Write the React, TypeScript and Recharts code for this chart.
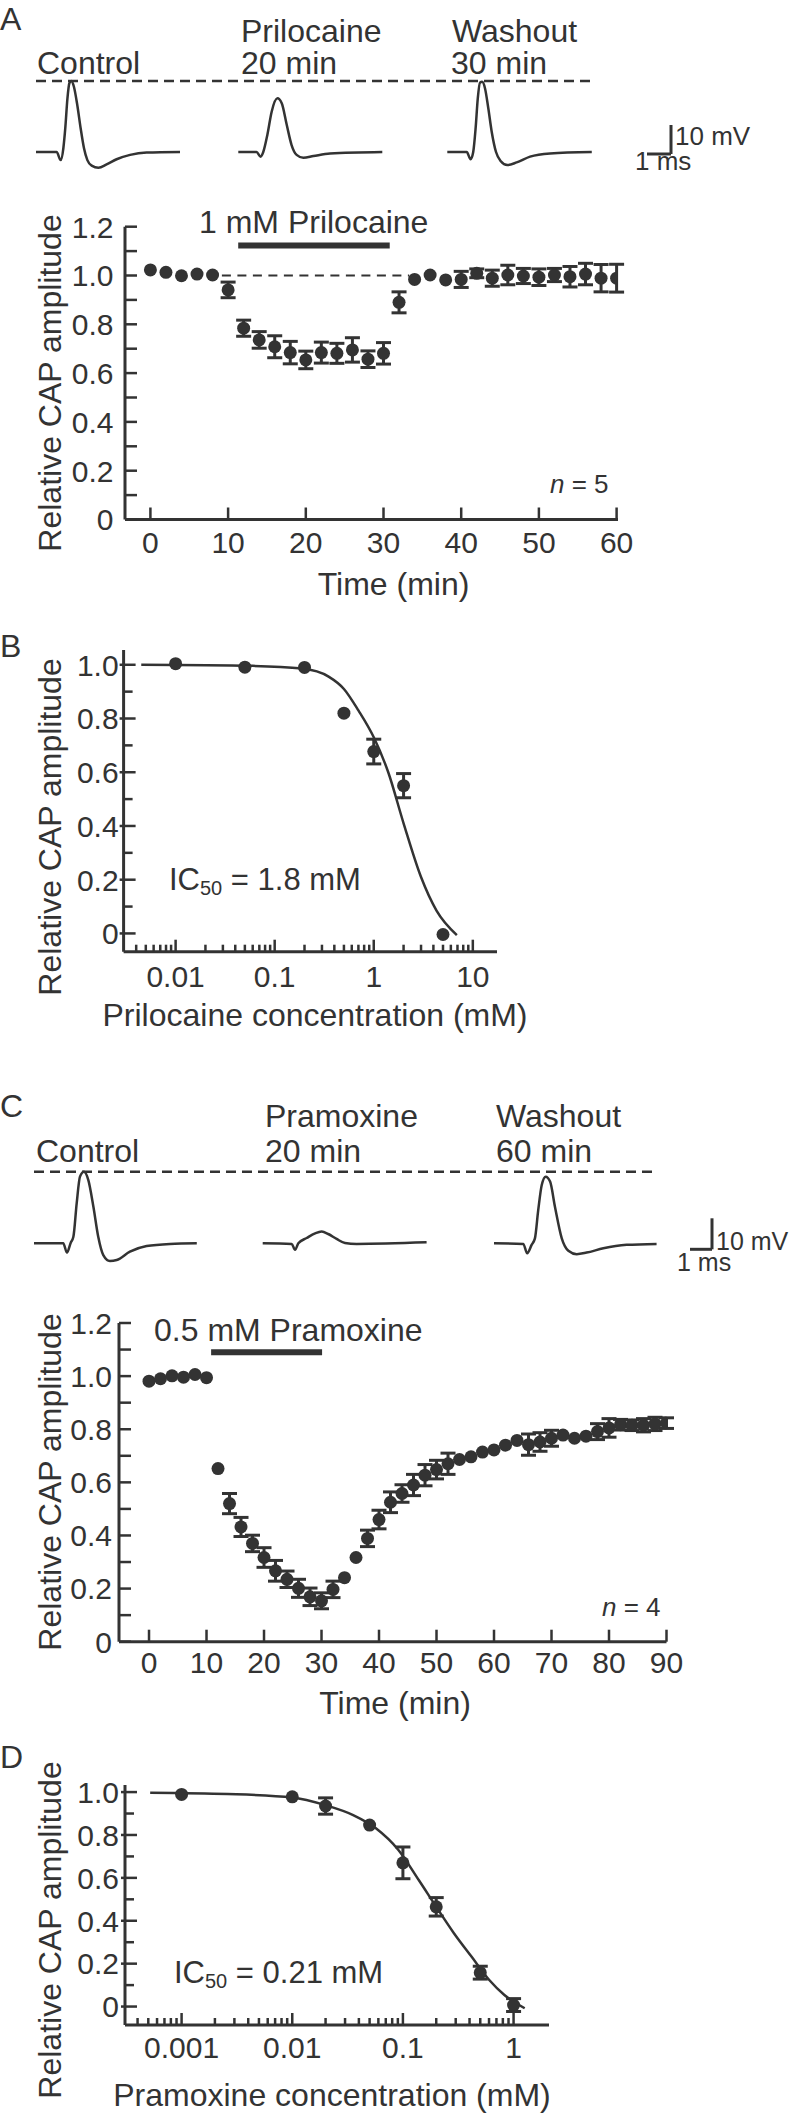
import React from 'react';
import {
  ComposedChart,
  LineChart,
  Line,
  Scatter,
  ErrorBar,
  XAxis,
  YAxis,
  ReferenceLine,
} from 'recharts';

const INK = '#333';
const FONT = '"Liberation Sans", Arial, Helvetica, sans-serif';
const W = 791;
const Y_AXIS_W = 60;
const X_AXIS_H = 40;

// ---- A: sample CAP traces (ms from trace start, mV from baseline)
const aCtrlT = [0, 0.86, 1.03, 1.14, 1.22, 1.31, 1.39, 1.47, 1.58, 1.72, 1.86, 2.0, 2.14, 2.32, 2.6, 2.94, 3.36, 3.92, 4.61, 6.0];
const aCtrlV = [0, 0, -2.8, 1.3, 8.2, 18.5, 23.7, 24.5, 22.5, 16.2, 8.2, 1.3, -2.8, -4.7, -5.4, -4.3, -2.5, -1.0, -0.2, 0];
const aPrilT = [0, 0.76, 0.93, 1.04, 1.21, 1.39, 1.63, 1.81, 2.02, 2.22, 2.43, 2.71, 3.13, 3.82, 6.0];
const aPrilV = [0, 0, -1.6, 0, 5.9, 13.9, 18.5, 16.8, 9.3, 2.4, -1.0, -2.0, -1.4, -0.5, 0];
const aWashT = [0, 0.81, 0.97, 1.08, 1.18, 1.27, 1.36, 1.45, 1.57, 1.71, 1.85, 2.03, 2.22, 2.5, 2.89, 3.45, 4.28, 6.02];
const aWashV = [0, 0, -2.5, 0, 8.2, 18.5, 23.9, 24.2, 22, 15, 7, 0, -3.1, -4.5, -3.6, -1.6, -0.5, 0];

// ---- A: time course, 1 mM prilocaine (0 = error bar hidden behind the dot)
const prilTime = [0, 2, 4, 6, 8, 10, 12, 14, 16, 18, 20, 22, 24, 26, 28, 30, 32, 34, 36, 38, 40, 42, 44, 46, 48, 50, 52, 54, 56, 58, 60];
const prilAmp = [1.023, 1.013, 0.999, 1.006, 1.002, 0.941, 0.784, 0.736, 0.708, 0.684, 0.654, 0.684, 0.681, 0.695, 0.657, 0.681, 0.89, 0.984, 1.002, 0.982, 0.984, 1.009, 0.989, 1.002, 0.998, 0.993, 1.002, 0.995, 1.006, 0.989, 0.989];
const prilErr = [0, 0, 0, 0, 0, 0.032, 0.033, 0.034, 0.045, 0.046, 0.036, 0.043, 0.041, 0.05, 0.034, 0.044, 0.043, 0, 0, 0, 0.033, 0.018, 0.033, 0.04, 0.031, 0.034, 0.027, 0.042, 0.044, 0.056, 0.057];
const prilDrug = [11.3, 30.8];

// ---- B: prilocaine concentration-response
const prilConc = [0.01, 0.05, 0.2, 0.5, 1, 2, 5];
const prilConcAmp = [1.004, 0.991, 0.99, 0.82, 0.677, 0.55, -0.004];
const prilConcErr = [0, 0, 0, 0, 0.046, 0.045, 0];
const prilFitX = [0.0045, 0.06, 0.19, 0.35, 0.5, 0.7, 1.0, 1.4, 2.0, 3.0, 4.3, 6.9];
const prilFitY = [1.0, 0.996, 0.986, 0.956, 0.91, 0.83, 0.73, 0.6, 0.41, 0.21, 0.085, -0.006];

// ---- C: sample CAP traces
const cCtrlT = [0, 1.33, 1.5, 1.67, 1.79, 1.94, 2.09, 2.27, 2.47, 2.7, 2.92, 3.15, 3.45, 3.76, 4.36, 5.12, 6.18, 7.4];
const cCtrlV = [0, 0, -3.0, 0.2, 2.1, 12.9, 21.5, 23.1, 20.4, 11.8, 2.1, -3.8, -5.7, -5.4, -2.7, -0.9, -0.2, 0];
const cPramT = [0, 1.32, 1.47, 1.62, 2.0, 2.38, 2.68, 2.98, 3.36, 3.74, 4.27, 7.45];
const cPramV = [0, -0.2, -2.1, 0, 1.7, 3.2, 3.8, 3.0, 1.4, 0.1, -0.2, 0.3];
const cWashT = [0, 1.33, 1.51, 1.71, 1.86, 2.01, 2.17, 2.35, 2.55, 2.77, 3.08, 3.38, 3.76, 4.21, 4.97, 6.03, 7.39];
const cWashV = [0, -0.2, -3.2, -0.5, 1.6, 10.7, 18.8, 21.5, 19.9, 11.8, 1.6, -2.4, -3.5, -3.0, -1.6, -0.5, -0.2];

// ---- C: time course, 0.5 mM pramoxine
const pramTime = [0, 2, 4, 6, 8, 10, 12, 14, 16, 18, 20, 22, 24, 26, 28, 30, 32, 34, 36, 38, 40, 42, 44, 46, 48, 50, 52, 54, 56, 58, 60, 62, 64, 66, 68, 70, 72, 74, 76, 78, 80, 82, 84, 86, 88, 90];
const pramAmp = [0.981, 0.99, 1.001, 0.996, 1.006, 0.994, 0.652, 0.52, 0.432, 0.37, 0.317, 0.267, 0.235, 0.201, 0.169, 0.154, 0.197, 0.241, 0.317, 0.389, 0.46, 0.525, 0.558, 0.59, 0.627, 0.648, 0.67, 0.686, 0.696, 0.714, 0.722, 0.74, 0.758, 0.742, 0.752, 0.766, 0.778, 0.766, 0.774, 0.791, 0.805, 0.817, 0.815, 0.815, 0.82, 0.823];
const pramErr = [0, 0, 0, 0, 0, 0, 0, 0.038, 0.036, 0.031, 0.037, 0.039, 0.031, 0.034, 0.033, 0.03, 0.031, 0, 0, 0.031, 0.035, 0.039, 0.033, 0.04, 0.04, 0.035, 0.04, 0, 0, 0, 0, 0, 0, 0.04, 0.035, 0.03, 0, 0, 0, 0.03, 0.035, 0.02, 0.02, 0.025, 0.025, 0.02];
const pramDrug = [10.8, 30.1];

// ---- D: pramoxine concentration-response
const pramConc = [0.001, 0.01, 0.02, 0.05, 0.1, 0.2, 0.5, 1];
const pramConcAmp = [0.989, 0.978, 0.935, 0.846, 0.67, 0.465, 0.158, 0.007];
const pramConcErr = [0, 0, 0.038, 0, 0.074, 0.043, 0.03, 0.03];
const pramFitX = [0.00052, 0.0026, 0.01, 0.02, 0.0355, 0.057, 0.091, 0.139, 0.2, 0.29, 0.418, 0.603, 0.826, 1.26];
const pramFitY = [0.997, 0.991, 0.975, 0.939, 0.893, 0.831, 0.73, 0.59, 0.465, 0.341, 0.232, 0.124, 0.054, -0.008];

// ---- tick values
const relTicks = [0, 0.1, 0.2, 0.3, 0.4, 0.5, 0.6, 0.7, 0.8, 0.9, 1.0, 1.1, 1.2];
const relMajor = [0, 0.2, 0.4, 0.6, 0.8, 1.0, 1.2];
const timeTicksA = [0, 10, 20, 30, 40, 50, 60];
const timeTicksC = [0, 10, 20, 30, 40, 50, 60, 70, 80, 90];
const decadesB = [0.01, 0.1, 1, 10];
const decadesD = [0.001, 0.01, 0.1, 1];
const minorSteps = [2, 3, 4, 5, 6, 7, 8, 9];

const fmtRel = (v: number) => (v === 0 ? '0' : v.toFixed(1));
const zip = (xs: number[], ys: number[], es?: number[]) =>
  xs.map((x, i) => ({ x, y: ys[i], e: es && es[i] ? es[i] : null }));

type Trace = { t: number[]; v: number[]; startX: number };

function TraceRow({ top, height, baseY, pxMs, pxMv, traces, barX, barY }: {
  top: number; height: number; baseY: number; pxMs: number; pxMv: number;
  traces: Trace[]; barX: number; barY: number;
}) {
  const originX = traces[0].startX;
  const toT = (x: number) => (x - originX) / pxMs;
  const toV = (y: number) => (baseY - y) / pxMv;
  const peak = Math.max(...traces[0].v);
  const last = traces[traces.length - 1];
  const dashEnd = toT(last.startX) + last.t[last.t.length - 1];
  const bx = toT(barX);
  const by = toV(barY);
  return (
    <div style={{ position: 'absolute', left: 0, top }}>
      <LineChart width={W} height={height} margin={{ top: 0, right: 0, bottom: 0, left: 0 }}>
        <XAxis type="number" dataKey="t" domain={[toT(0), toT(W)]} allowDataOverflow hide />
        <YAxis type="number" domain={[toV(top + height), toV(top)]} allowDataOverflow hide />
        <ReferenceLine segment={[{ x: 0, y: peak }, { x: dashEnd, y: peak }]} stroke={INK} strokeWidth={2.5} strokeDasharray="10 6" />
        {traces.map((tr, k) => (
          <Line
            key={k}
            data={tr.t.map((t, i) => ({ t: t + toT(tr.startX), v: tr.v[i] }))}
            dataKey="v"
            type="monotone"
            dot={false}
            activeDot={false}
            stroke={INK}
            strokeWidth={2.5}
            isAnimationActive={false}
          />
        ))}
        <ReferenceLine segment={[{ x: bx, y: by }, { x: bx + 1, y: by }]} stroke={INK} strokeWidth={3} />
        <ReferenceLine segment={[{ x: bx + 1, y: by }, { x: bx + 1, y: by + 10 }]} stroke={INK} strokeWidth={3} />
      </LineChart>
    </div>
  );
}

type PanelProps = {
  top: number; height: number; left: number; right: number; plotTop: number; plotBottom: number;
  xDomain: [number, number]; yDomain: [number, number]; log?: boolean;
  xTicks: number[]; xMajor: number[]; yTicks: number[]; yMajor: number[];
  xLabelY: number; yLabelX: number; xMinorLen: number; yMinorLen: number; yCross: number;
  xFmt: (v: number) => string;
  children: React.ReactNode;
};

function Panel(p: PanelProps) {
  const axisY = p.plotBottom - p.top;
  const labelY = p.xLabelY - p.top;
  const xTick = (t: any) => {
    const v = t.payload.value;
    const major = p.xMajor.includes(v);
    return (
      <g>
        <line x1={t.x} x2={t.x} y1={axisY} y2={axisY - (major ? 12 : p.xMinorLen)} stroke={INK} strokeWidth={2.5} />
        {major && (
          <text x={t.x} y={labelY} textAnchor="middle" fontSize={30} fill={INK} fontFamily={FONT}>
            {p.xFmt(v)}
          </text>
        )}
      </g>
    );
  };
  const yTick = (t: any) => {
    const v = t.payload.value;
    const major = p.yMajor.includes(v);
    return (
      <g>
        <line x1={p.left - (major ? p.yCross : 0)} x2={p.left + (major ? 12 : p.yMinorLen)} y1={t.y} y2={t.y} stroke={INK} strokeWidth={2.5} />
        {major && (
          <text x={p.yLabelX} y={t.y} dy="0.36em" textAnchor="end" fontSize={30} fill={INK} fontFamily={FONT}>
            {fmtRel(v)}
          </text>
        )}
      </g>
    );
  };
  return (
    <div style={{ position: 'absolute', left: 0, top: p.top }}>
      <ComposedChart
        width={W}
        height={p.height}
        margin={{
          top: p.plotTop - p.top,
          bottom: p.top + p.height - p.plotBottom - X_AXIS_H,
          left: p.left - Y_AXIS_W,
          right: W - p.right,
        }}
      >
        <XAxis
          type="number"
          dataKey="x"
          scale={p.log ? 'log' : 'linear'}
          domain={p.xDomain}
          allowDataOverflow
          ticks={p.xTicks}
          interval={0}
          tickLine={false}
          axisLine={{ stroke: INK, strokeWidth: 3 }}
          height={X_AXIS_H}
          tick={xTick}
        />
        <YAxis
          type="number"
          domain={p.yDomain}
          allowDataOverflow
          ticks={p.yTicks}
          interval={0}
          tickLine={false}
          axisLine={{ stroke: INK, strokeWidth: 3 }}
          width={Y_AXIS_W}
          tick={yTick}
        />
        {p.children}
      </ComposedChart>
    </div>
  );
}

const dot = (s: any) => <circle cx={s.cx} cy={s.cy} r={6.5} fill={INK} />;

function Txt({ x, y, size = 32, anchor = 'start', rot = false, children }: {
  x: number; y: number; size?: number; anchor?: 'start' | 'middle' | 'end'; rot?: boolean; children: React.ReactNode;
}) {
  return (
    <text x={x} y={y} fontSize={size} textAnchor={anchor} fill={INK} fontFamily={FONT}
      transform={rot ? `rotate(-90 ${x} ${y})` : undefined}>
      {children}
    </text>
  );
}

export default function App() {
  const logMinor = (decs: number[], lo: number, hi: number) =>
    decs.flatMap((d) => minorSteps.map((m) => m * d)).filter((v) => v > lo * 1.05 && v < hi);
  const bDomain: [number, number] = [0.002985, 17.54];
  const dDomain: [number, number] = [0.000308, 2.09];
  const bTicks = [...decadesB, ...logMinor([0.001, 0.01, 0.1, 1], bDomain[0], 10)];
  const dTicks = [...decadesD, ...logMinor([0.0001, 0.001, 0.01, 0.1], dDomain[0], 1)];

  return (
    <div style={{ position: 'absolute', left: 0, top: 0, width: W, height: 2115, background: '#fff' }}>
      <TraceRow
        top={0} height={200} baseY={152} pxMs={24} pxMv={2.9} barX={647} barY={154}
        traces={[
          { t: aCtrlT, v: aCtrlV, startX: 36 },
          { t: aPrilT, v: aPrilV, startX: 238.3 },
          { t: aWashT, v: aWashV, startX: 447.3 },
        ]}
      />
      <Panel
        top={200} height={420} left={125} right={618} plotTop={226.7} plotBottom={519.5}
        xDomain={[-3.27, 60.18]} yDomain={[0, 1.2]}
        xTicks={timeTicksA} xMajor={timeTicksA} yTicks={relTicks} yMajor={relMajor}
        xLabelY={553} yLabelX={113.5} xMinorLen={12} yMinorLen={12} yCross={0} xFmt={(v) => String(v)}
      >
        <ReferenceLine segment={[{ x: 9.2, y: 1 }, { x: 33.3, y: 1 }]} stroke={INK} strokeWidth={2} strokeDasharray="9 6.5" />
        <ReferenceLine segment={[{ x: prilDrug[0], y: 1.123 }, { x: prilDrug[1], y: 1.123 }]} stroke={INK} strokeWidth={6} />
        <Scatter data={zip(prilTime, prilAmp, prilErr)} dataKey="y" shape={dot} isAnimationActive={false}>
          <ErrorBar dataKey="e" direction="y" width={7.5} stroke={INK} strokeWidth={3} />
        </Scatter>
      </Panel>
      <Panel
        top={620} height={430} left={123.6} right={497} plotTop={650} plotBottom={951.7}
        xDomain={bDomain} yDomain={[-0.068, 1.055]} log
        xTicks={bTicks} xMajor={decadesB} yTicks={relTicks.slice(0, 11)} yMajor={relMajor}
        xLabelY={986.7} yLabelX={118.6} xMinorLen={7} yMinorLen={9} yCross={4} xFmt={(v) => String(v)}
      >
        <Line data={zip(prilFitX, prilFitY)} dataKey="y" type="monotone" dot={false} activeDot={false} stroke={INK} strokeWidth={2.5} isAnimationActive={false} />
        <Scatter data={zip(prilConc, prilConcAmp, prilConcErr)} dataKey="y" shape={dot} isAnimationActive={false}>
          <ErrorBar dataKey="e" direction="y" width={7.5} stroke={INK} strokeWidth={3} />
        </Scatter>
      </Panel>
      <TraceRow
        top={1100} height={190} baseY={1243.3} pxMs={22} pxMv={3.1} barX={690} barY={1249.3}
        traces={[
          { t: cCtrlT, v: cCtrlV, startX: 34 },
          { t: cPramT, v: cPramV, startX: 262.7 },
          { t: cWashT, v: cWashV, startX: 494 },
        ]}
      />
      <Panel
        top={1300} height={440} left={119} right={666.5} plotTop={1323} plotBottom={1641.7}
        xDomain={[-5.22, 90]} yDomain={[0, 1.2]}
        xTicks={timeTicksC} xMajor={timeTicksC} yTicks={relTicks} yMajor={relMajor}
        xLabelY={1673.3} yLabelX={112} xMinorLen={12} yMinorLen={12} yCross={0} xFmt={(v) => String(v)}
      >
        <ReferenceLine segment={[{ x: 12, y: 1 }, { x: 90.3, y: 1 }]} stroke={INK} strokeWidth={2} strokeDasharray="9 6.5" />
        <ReferenceLine segment={[{ x: pramDrug[0], y: 1.09 }, { x: pramDrug[1], y: 1.09 }]} stroke={INK} strokeWidth={6} />
        <Scatter data={zip(pramTime, pramAmp, pramErr)} dataKey="y" shape={dot} isAnimationActive={false}>
          <ErrorBar dataKey="e" direction="y" width={7.5} stroke={INK} strokeWidth={3} />
        </Scatter>
      </Panel>
      <Panel
        top={1750} height={365} left={125} right={549} plotTop={1785} plotBottom={2025}
        xDomain={dDomain} yDomain={[-0.086, 1.033]} log
        xTicks={dTicks} xMajor={decadesD} yTicks={relTicks.slice(0, 11)} yMajor={relMajor}
        xLabelY={2058.3} yLabelX={119} xMinorLen={7} yMinorLen={9} yCross={4} xFmt={(v) => String(v)}
      >
        <Line data={zip(pramFitX, pramFitY)} dataKey="y" type="monotone" dot={false} activeDot={false} stroke={INK} strokeWidth={2.5} isAnimationActive={false} />
        <Scatter data={zip(pramConc, pramConcAmp, pramConcErr)} dataKey="y" shape={dot} isAnimationActive={false}>
          <ErrorBar dataKey="e" direction="y" width={7.5} stroke={INK} strokeWidth={3} />
        </Scatter>
      </Panel>

      <svg width={W} height={2115} style={{ position: 'absolute', left: 0, top: 0, pointerEvents: 'none' }}>
        {/* A */}
        <Txt x={0} y={30}>A</Txt>
        <Txt x={37} y={73.5}>Control</Txt>
        <Txt x={241} y={41.5}>Prilocaine</Txt>
        <Txt x={241} y={73.5}>20 min</Txt>
        <Txt x={452} y={41.5}>Washout</Txt>
        <Txt x={451} y={73.5}>30 min</Txt>
        <Txt x={675} y={145} size={26}>10 mV</Txt>
        <Txt x={635} y={170} size={26}>1 ms</Txt>
        <Txt x={199} y={233}>1 mM Prilocaine</Txt>
        <Txt x={550} y={493} size={26}><tspan fontStyle="italic">n</tspan> = 5</Txt>
        <Txt x={393.5} y={595} anchor="middle">Time (min)</Txt>
        <Txt x={61} y={383} anchor="middle" rot>Relative CAP amplitude</Txt>
        {/* B */}
        <Txt x={0} y={657}>B</Txt>
        <Txt x={61} y={827} anchor="middle" rot>Relative CAP amplitude</Txt>
        <Txt x={169} y={890} size={31}>IC<tspan fontSize={20} dy={5}>50</tspan><tspan dy={-5}> = 1.8 mM</tspan></Txt>
        <Txt x={315} y={1026} anchor="middle">Prilocaine concentration (mM)</Txt>
        {/* C */}
        <Txt x={0} y={1117}>C</Txt>
        <Txt x={36} y={1162}>Control</Txt>
        <Txt x={265} y={1127}>Pramoxine</Txt>
        <Txt x={265} y={1162}>20 min</Txt>
        <Txt x={496} y={1127}>Washout</Txt>
        <Txt x={496} y={1162}>60 min</Txt>
        <Txt x={716} y={1250} size={25}>10 mV</Txt>
        <Txt x={677} y={1271} size={25}>1 ms</Txt>
        <Txt x={154} y={1341}>0.5 mM Pramoxine</Txt>
        <Txt x={602} y={1616} size={26}><tspan fontStyle="italic">n</tspan> = 4</Txt>
        <Txt x={395} y={1714} anchor="middle">Time (min)</Txt>
        <Txt x={61} y={1482} anchor="middle" rot>Relative CAP amplitude</Txt>
        {/* D */}
        <Txt x={0} y={1768}>D</Txt>
        <Txt x={61} y={1930} anchor="middle" rot>Relative CAP amplitude</Txt>
        <Txt x={174} y={1983} size={31}>IC<tspan fontSize={20} dy={5}>50</tspan><tspan dy={-5}> = 0.21 mM</tspan></Txt>
        <Txt x={332} y={2106} anchor="middle">Pramoxine concentration (mM)</Txt>
      </svg>
    </div>
  );
}
